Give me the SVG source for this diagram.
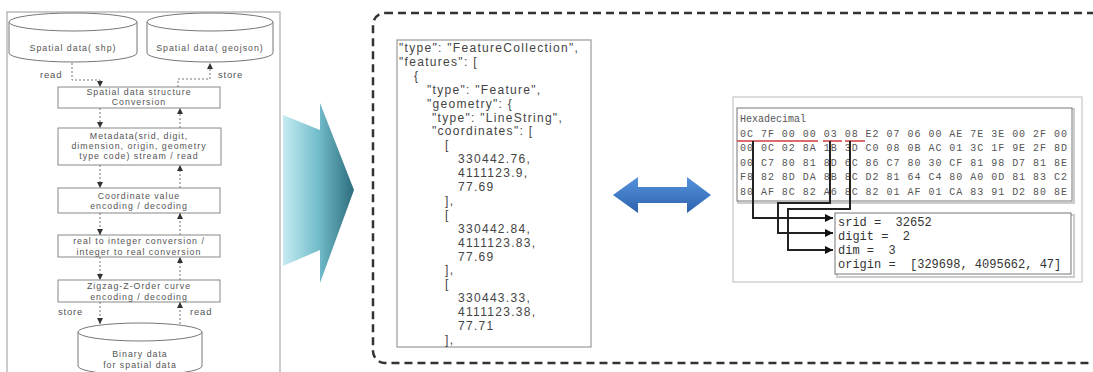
<svg xmlns="http://www.w3.org/2000/svg" width="1093" height="372" viewBox="0 0 1093 372">
<style>
.lt{font-family:"Liberation Sans",Arial,sans-serif;font-size:8.8px;letter-spacing:1px;fill:#555;text-anchor:middle}
.lbl{font-family:"Liberation Sans",Arial,sans-serif;font-size:9.5px;letter-spacing:0.8px;fill:#555}
.box{fill:#fff;stroke:#888;stroke-width:1}
.cyl{fill:#fff;stroke:#777;stroke-width:1}
.dot{fill:none;stroke:#777;stroke-width:1;stroke-dasharray:2,2}
.js{font-family:"Liberation Sans",Arial,sans-serif;font-size:12px;letter-spacing:1.3px;fill:#444;white-space:pre}
.hx{font-family:"Liberation Mono","Courier New",monospace;font-size:10px;fill:#555;white-space:pre}
.md{font-family:"Liberation Mono","Courier New",monospace;font-size:12px;fill:#333;white-space:pre}
.blk{fill:none;stroke:#222;stroke-width:2}
</style>
<defs>
<marker id="ah" viewBox="0 0 10 10" refX="10" refY="5" markerWidth="6" markerHeight="6" orient="auto"><path d="M0,0 L10,5 L0,10 z" fill="#333"/></marker>
<marker id="bh" viewBox="0 0 10 10" refX="10" refY="5" markerWidth="4" markerHeight="4" orient="auto"><path d="M0,0 L10,5 L0,10 z" fill="#111"/></marker>
<linearGradient id="tg" x1="0" y1="0" x2="1" y2="0">
<stop offset="0" stop-color="#c6ecf2"/><stop offset="0.5" stop-color="#72bccb"/><stop offset="1" stop-color="#2c6c7c"/></linearGradient>
<linearGradient id="bg" x1="0" y1="0" x2="0" y2="1">
<stop offset="0" stop-color="#5592dc"/><stop offset="1" stop-color="#2d62ad"/></linearGradient>
</defs>
<rect width="1093" height="372" fill="#fff"/>

<!-- left panel -->
<rect x="7" y="12" width="273" height="372" fill="none" stroke="#aaa" stroke-width="1.2"/>

<g id="cyl-shp">
<path class="cyl" d="M9,22 V53 A64,9 0 0 0 137,53 V22"/>
<ellipse class="cyl" cx="73" cy="22" rx="64" ry="9"/>
<text class="lt" x="73" y="51">Spatial data( shp)</text>
</g>
<g id="cyl-geojson">
<path class="cyl" d="M147,22 V53 A63,9 0 0 0 273,53 V22"/>
<ellipse class="cyl" cx="210" cy="22" rx="63" ry="9"/>
<text class="lt" x="210" y="51">Spatial data( geojson)</text>
</g>
<g id="box-conv">
<rect class="box" x="58" y="87" width="162" height="21"/>
<text class="lt" x="139" y="95">Spatial data structure</text>
<text class="lt" x="139" y="105">Conversion</text>
</g>
<g id="box-meta">
<rect class="box" x="58" y="128" width="163" height="37"/>
<text class="lt" x="139" y="139">Metadata(srid, digit,</text>
<text class="lt" x="139" y="149">dimension, origin, geometry</text>
<text class="lt" x="139" y="159">type code) stream / read</text>
</g>
<g id="box-coord">
<rect class="box" x="58" y="188" width="162" height="25"/>
<text class="lt" x="139" y="198.5">Coordinate value</text>
<text class="lt" x="139" y="209">encoding / decoding</text>
</g>
<g id="box-real">
<rect class="box" x="58" y="235" width="162" height="22"/>
<text class="lt" x="139" y="244">real to integer conversion /</text>
<text class="lt" x="139" y="254.5">integer to real conversion</text>
</g>
<g id="box-zigzag">
<rect class="box" x="58" y="280" width="162" height="22"/>
<text class="lt" x="139" y="289">Zigzag-Z-Order curve</text>
<text class="lt" x="139" y="299.5">encoding / decoding</text>
</g>
<g id="cyl-binary">
<path class="cyl" d="M78,332 V366 A62,9 0 0 0 202,366 V332"/>
<ellipse class="cyl" cx="140" cy="332" rx="62" ry="9"/>
<text class="lt" x="140" y="357">Binary data</text>
<text class="lt" x="140" y="368">for spatial data</text>
</g>

<g id="connectors-left">
<path class="dot" d="M72,63 V80 H100 V87" marker-end="url(#ah)"/>
<path class="dot" d="M178,87 V79 H210 V63" marker-end="url(#ah)"/>
<path class="dot" d="M100,108 V128" marker-end="url(#ah)"/>
<path class="dot" d="M180,128 V108" marker-end="url(#ah)"/>
<path class="dot" d="M100,165 V188" marker-end="url(#ah)"/>
<path class="dot" d="M180,188 V165" marker-end="url(#ah)"/>
<path class="dot" d="M100,213 V235" marker-end="url(#ah)"/>
<path class="dot" d="M180,235 V213" marker-end="url(#ah)"/>
<path class="dot" d="M100,257 V280" marker-end="url(#ah)"/>
<path class="dot" d="M180,280 V257" marker-end="url(#ah)"/>
<path class="dot" d="M100,302 V324" marker-end="url(#ah)"/>
<path class="dot" d="M180,324 V302" marker-end="url(#ah)"/>
<text class="lbl" x="40" y="78">read</text>
<text class="lbl" x="218" y="78">store</text>
<text class="lbl" x="58" y="315">store</text>
<text class="lbl" x="190" y="315">read</text>
</g>

<!-- big arrow -->
<g id="big-arrow">
<polygon points="283,115 320,130 320,103 354,190 320,283 320,250 283,266" fill="url(#tg)"/>
</g>

<!-- dashed container -->
<rect x="373" y="13" width="740" height="350" rx="12" fill="none" stroke="#333" stroke-width="2.5" stroke-dasharray="8,5"/>

<g id="json-box">
<rect x="397" y="40" width="194" height="307" fill="#fff" stroke="#999" stroke-width="1.2"/>
<text class="js" x="399" y="52">"type": "FeatureCollection",</text>
<text class="js" x="399" y="65.9">"features": [</text>
<text class="js" x="414" y="79.8">{</text>
<text class="js" x="427" y="93.7">"type": "Feature",</text>
<text class="js" x="427" y="107.6">"geometry": {</text>
<text class="js" x="432" y="121.5">"type": "LineString",</text>
<text class="js" x="432" y="135.4">"coordinates": [</text>
<text class="js" x="445" y="149.3">[</text>
<text class="js" x="458" y="163.2">330442.76,</text>
<text class="js" x="458" y="177.1">4111123.9,</text>
<text class="js" x="458" y="191">77.69</text>
<text class="js" x="445" y="204.9">],</text>
<text class="js" x="445" y="218.8">[</text>
<text class="js" x="458" y="232.7">330442.84,</text>
<text class="js" x="458" y="246.6">4111123.83,</text>
<text class="js" x="458" y="260.5">77.69</text>
<text class="js" x="445" y="274.4">],</text>
<text class="js" x="445" y="288.3">[</text>
<text class="js" x="458" y="302.2">330443.33,</text>
<text class="js" x="458" y="316.1">4111123.38,</text>
<text class="js" x="458" y="330">77.71</text>
<text class="js" x="445" y="343.9">],</text>
</g>

<g id="double-arrow">
<polygon points="613,195 638,177 638,187 687,187 687,177 711,195 687,213 687,203 638,203 638,213" fill="url(#bg)"/>
</g>

<g id="hex-panel">
<rect x="733" y="97" width="349" height="185" fill="#fff" stroke="#bbb" stroke-width="1"/>
<rect x="738" y="109" width="336" height="94" fill="none" stroke="#ccc" stroke-width="2"/>
<rect x="737" y="108" width="335" height="93" fill="#fff" stroke="#777" stroke-width="1"/>
<text class="hx" x="740" y="122" font-size="9">Hexadecimal</text>
<text class="hx" x="740" y="136.5" textLength="327" lengthAdjust="spacing">0C 7F 00 00 03 08 E2 07 06 00 AE 7E 3E 00 2F 00</text>
<text class="hx" x="740" y="151" textLength="327" lengthAdjust="spacing">00 0C 02 8A 1B 3D C0 08 0B AC 01 3C 1F 9E 2F 8D</text>
<text class="hx" x="740" y="165.5" textLength="327" lengthAdjust="spacing">00 C7 80 81 8D 6C 86 C7 80 30 CF 81 98 D7 81 8E</text>
<text class="hx" x="740" y="180" textLength="327" lengthAdjust="spacing">F8 82 8D DA 8B 8C D2 81 64 C4 80 A0 0D 81 83 C2</text>
<text class="hx" x="740" y="194.5" textLength="327" lengthAdjust="spacing">80 AF 8C 82 A6 8C 82 01 AF 01 CA 83 91 D2 80 8E</text>
<g stroke="#d23a3a" stroke-width="1.5">
<line x1="737" y1="141" x2="818" y2="141"/>
<line x1="823" y1="141" x2="842" y2="141"/>
<line x1="845" y1="141" x2="865" y2="141"/>
</g>
</g>

<g id="meta-box">
<rect x="837" y="215" width="237" height="62" fill="none" stroke="#ccc" stroke-width="2"/>
<rect x="835" y="213" width="236" height="61" fill="#fff" stroke="#777" stroke-width="1"/>
<text class="md" x="838" y="226">srid =  32652</text>
<text class="md" x="838" y="240">digit =  2</text>
<text class="md" x="838" y="254">dim =  3</text>
<text class="md" x="838" y="268">origin =  [329698, 4095662, 47]</text>
</g>

<g id="connectors-hex">
<path class="blk" d="M753,141 V218 H833" marker-end="url(#bh)"/>
<path class="blk" d="M830,141 V203 H778 V233 H833" marker-end="url(#bh)"/>
<path class="blk" d="M850,141 V209 H788 V250 H833" marker-end="url(#bh)"/>
</g>
</svg>
